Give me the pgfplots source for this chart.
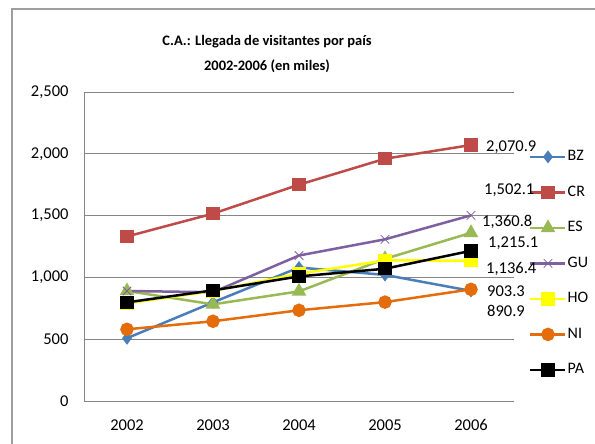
\documentclass[border=0pt]{standalone}
\usepackage{fontspec}
\setmainfont{Carlito}
\usepackage{pgfplots}
\pgfplotsset{compat=1.18}
\definecolor{cBZ}{RGB}{74,126,187}
\definecolor{cCR}{RGB}{190,75,72}
\definecolor{cES}{RGB}{152,185,84}
\definecolor{cGU}{RGB}{125,96,160}
\definecolor{cHO}{RGB}{255,255,0}
\definecolor{cNI}{RGB}{228,108,10}
\definecolor{cgrid}{RGB}{134,134,134}
\begin{document}
\begin{tikzpicture}[x=1pt,y=1pt]
\useasboundingbox (0,0) rectangle (595,444);
\draw[cgrid!80,line width=2pt] (12,-10) -- (12,435) -- (605,435);
\node[font=\bfseries\fontsize{14.5}{18}\selectfont,align=center] at (267,389.5) {C.A.: Llegada de visitantes por país\\[7pt]2002-2006 (en miles)};
\begin{axis}[
  at={(84pt,43pt)}, anchor=south west,
  scale only axis, width=430pt, height=309pt,
  xmin=0.5, xmax=5.5, ymin=0, ymax=2500,
  xtick={1,2,3,4,5}, xticklabels={2002,2003,2004,2005,2006},
  ytick={0,500,1000,1500,2000,2500},
  /pgf/number format/assume math mode=true,
  /pgf/number format/1000 sep={,},
  tick label style={font=\fontsize{16.5}{18}\selectfont},
  yticklabel style={xshift=-12pt},
  xticklabel style={yshift=-15pt},
  major tick length=0pt,
  ymajorgrids, grid style={cgrid, line width=0.8pt},
  axis x line*=bottom, axis y line*=left,
  axis line style={cgrid, line width=0.8pt, -},
  every axis plot/.append style={line width=2.5pt},
  legend style={at={(1.035,0.81)}, anchor=north west, draw=none, fill=none,
    row sep=23.5pt, inner sep=0pt,
    nodes={font=\fontsize{16}{18}\selectfont, inner sep=1pt, text height=9pt, text depth=1pt}},
  legend cell align=left,
  legend image code/.code={\draw[mark repeat=2,mark phase=2,#1] plot coordinates {(0pt,0pt) (17.5pt,0pt) (35pt,0pt)};},
  clip=false,
]
\addplot[cBZ, mark=diamond*, mark size=4.5pt] coordinates {(1,508) (2,798) (3,1080) (4,1020) (5,890.9)};
\addlegendentry{BZ}
\addplot[cCR, mark=square*, mark size=5.5pt] coordinates {(1,1331) (2,1516) (3,1750) (4,1960) (5,2070.9)};
\addlegendentry{CR}
\addplot[cES, mark=triangle*, mark size=6pt] coordinates {(1,890) (2,782) (3,887) (4,1150) (5,1360.8)};
\addlegendentry{ES}
\addplot[cGU, mark=x, mark size=6pt, mark options={line width=0.8pt}] coordinates {(1,890) (2,880) (3,1177) (4,1308) (5,1502.1)};
\addlegendentry{GU}
\addplot[cHO, mark=square*, mark size=5.5pt] coordinates {(1,790) (2,890) (3,1030) (4,1137) (5,1136.4)};
\addlegendentry{HO}
\addplot[cNI, mark=*, mark size=5.5pt] coordinates {(1,580) (2,645) (3,734) (4,800) (5,903.3)};
\addlegendentry{NI}
\addplot[black, mark=square*, mark size=5.5pt] coordinates {(1,798) (2,895) (3,1008) (4,1070) (5,1215.1)};
\addlegendentry{PA}
\end{axis}
\begin{scope}[every node/.style={font=\fontsize{16.5}{18}\selectfont, anchor=west, inner sep=0pt}]
\node at (486,444-147) {2,070.9};
\node at (484,444-190) {1,502.1};
\node at (482,444-222) {1,360.8};
\node at (488,444-243) {1,215.1};
\node at (486,444-269) {1,136.4};
\node at (487,444-291) {903.3};
\node at (487,444-311) {890.9};
\end{scope}
\end{tikzpicture}
\end{document}
